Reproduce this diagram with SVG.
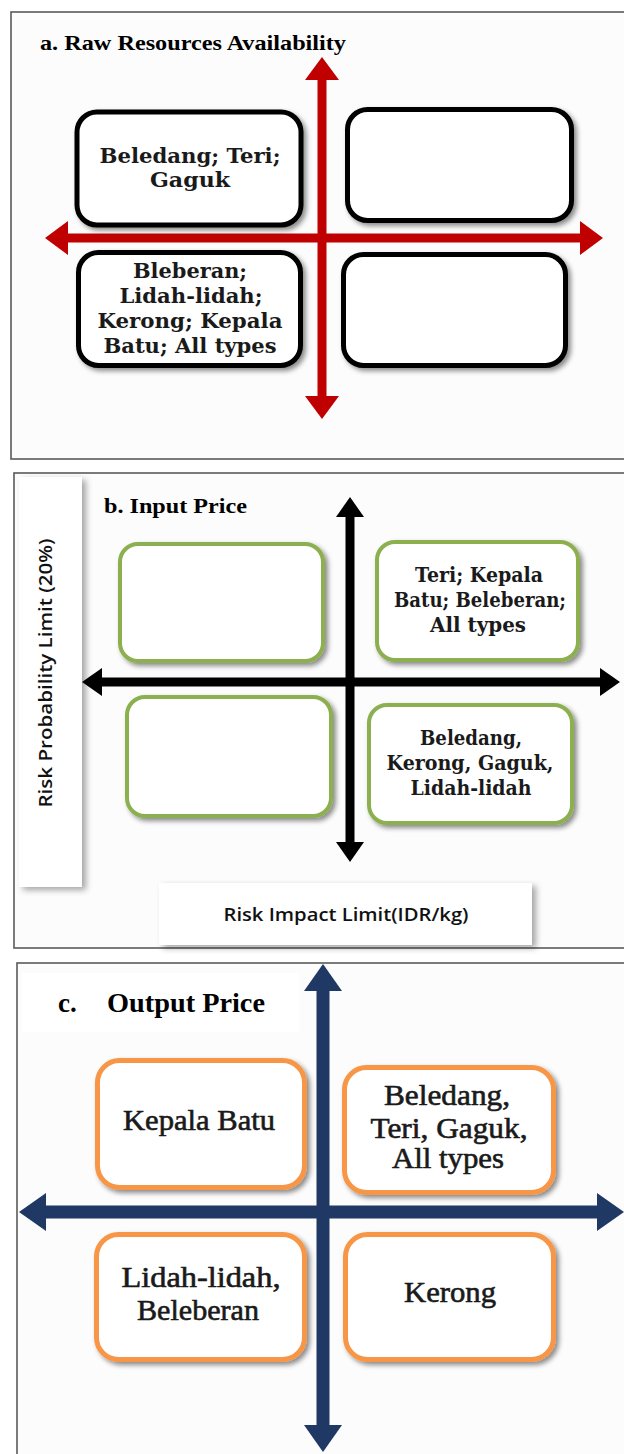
<svg xmlns="http://www.w3.org/2000/svg" width="624" height="1454" viewBox="0 0 624 1454">
<style>
.panel{fill:#fcfcfc;stroke:#5a5a5a;stroke-width:1.6}
.boxA{fill:#fff;stroke:#000;stroke-width:5}
.boxB{fill:#fff;stroke:#8cb050;stroke-width:4}
.boxC{fill:#fff;stroke:#f79646;stroke-width:5}
.tA{font-family:"DejaVu Serif","Liberation Serif",serif;font-weight:bold;font-size:21px;fill:#1a1a1a;text-anchor:middle}
.tC{font-family:"Liberation Serif","DejaVu Serif",serif;font-size:29px;fill:#1a1a1a;text-anchor:middle;stroke:#1a1a1a;stroke-width:0.6}
.title{font-family:"Liberation Serif","Times New Roman",serif;font-weight:bold;font-size:22px;fill:#000}
.axlab{font-family:"Open Sans","Liberation Sans",sans-serif;font-weight:600;font-size:18px;fill:#111;text-anchor:middle}
.labbox{fill:#fff}
</style>
<defs>
<filter id="sh" x="-20%" y="-20%" width="140%" height="140%">
<feDropShadow dx="3" dy="3" stdDeviation="2.5" flood-color="#000" flood-opacity="0.45"/>
</filter>
<filter id="shL" x="-10%" y="-10%" width="130%" height="130%">
<feDropShadow dx="4" dy="3" stdDeviation="3" flood-color="#000" flood-opacity="0.35"/>
</filter>
<marker id="hA" markerUnits="userSpaceOnUse" markerWidth="24" markerHeight="34" viewBox="0 0 24 34" refX="2" refY="17" orient="auto-start-reverse">
<path d="M0,0 L23,17 L0,34 Z" fill="#c00000"/>
</marker>
<marker id="hB" markerUnits="userSpaceOnUse" markerWidth="22" markerHeight="28" viewBox="0 0 22 28" refX="2" refY="14" orient="auto-start-reverse">
<path d="M0,0 L20,14 L0,28 Z" fill="#000"/>
</marker>
<marker id="hC" markerUnits="userSpaceOnUse" markerWidth="28" markerHeight="38" viewBox="0 0 28 38" refX="2" refY="19" orient="auto-start-reverse">
<path d="M0,0 L27,19 L0,38 Z" fill="#1f3864"/>
</marker>
</defs>
<rect width="624" height="1454" fill="#fff"/>

<!-- Panel frames -->
<g id="panel-a"><rect class="panel" x="11" y="12" width="640" height="447"/>
<text class="title" x="40" y="50" textLength="306" lengthAdjust="spacingAndGlyphs">a. Raw Resources Availability</text></g>
<g id="panel-b"><rect class="panel" x="14" y="473" width="640" height="475"/>
<text class="title" x="104" y="513" textLength="143" lengthAdjust="spacingAndGlyphs">b. Input Price</text></g>
<g id="panel-c"><rect class="panel" x="17" y="963" width="640" height="500" fill="#f9f9f9"/>
<rect x="22" y="973" width="277" height="59" fill="#fff"/>
<text class="title" x="58" y="1012" style="font-size:27px">c.</text>
<text class="title" x="107" y="1012" style="font-size:27px" textLength="158" lengthAdjust="spacingAndGlyphs">Output Price</text></g>

<!-- Axis label boxes -->
<g id="label-y">
<rect class="labbox" x="19" y="477" width="63" height="410" filter="url(#shL)"/>
<text class="axlab" transform="translate(52,673) rotate(-90)" x="0" y="0" textLength="269" lengthAdjust="spacingAndGlyphs">Risk Probability Limit (20%)</text>
</g>
<g id="label-x">
<rect class="labbox" x="159" y="883" width="373" height="62" filter="url(#shL)"/>
<text class="axlab" x="346" y="921" textLength="245" lengthAdjust="spacingAndGlyphs">Risk Impact Limit(IDR/kg)</text>
</g>

<!-- Connectors (axes) -->
<g id="connectors">
<line x1="322" y1="78" x2="322" y2="398" stroke="#c00000" stroke-width="9" marker-start="url(#hA)" marker-end="url(#hA)"/>
<line x1="66" y1="238" x2="582" y2="238" stroke="#c00000" stroke-width="9" marker-start="url(#hA)" marker-end="url(#hA)"/>
<line x1="350" y1="515" x2="350" y2="844" stroke="#000" stroke-width="9" marker-start="url(#hB)" marker-end="url(#hB)"/>
<line x1="100" y1="682" x2="602" y2="682" stroke="#000" stroke-width="9" marker-start="url(#hB)" marker-end="url(#hB)"/>
<line x1="323" y1="989" x2="323" y2="1427" stroke="#1f3864" stroke-width="13" marker-start="url(#hC)" marker-end="url(#hC)"/>
<line x1="44" y1="1212" x2="599" y2="1212" stroke="#1f3864" stroke-width="13" marker-start="url(#hC)" marker-end="url(#hC)"/>
</g>

<!-- Panel a nodes -->
<g id="a-tl"><rect class="boxA" x="77" y="112" width="224" height="113" rx="20" filter="url(#sh)"/>
<text class="tA" x="190" y="163" textLength="181" lengthAdjust="spacingAndGlyphs">Beledang; Teri;</text>
<text class="tA" x="190" y="187" textLength="80" lengthAdjust="spacingAndGlyphs">Gaguk</text></g>
<g id="a-tr"><rect class="boxA" x="347.5" y="109.5" width="224" height="111" rx="20" filter="url(#sh)"/></g>
<g id="a-bl"><rect class="boxA" x="78.5" y="252.5" width="222" height="113" rx="20" filter="url(#sh)"/>
<text class="tA" x="190" y="278" textLength="114" lengthAdjust="spacingAndGlyphs">Bleberan;</text>
<text class="tA" x="191" y="303" textLength="143" lengthAdjust="spacingAndGlyphs">Lidah-lidah;</text>
<text class="tA" x="190" y="328" textLength="185" lengthAdjust="spacingAndGlyphs">Kerong; Kepala</text>
<text class="tA" x="190" y="353" textLength="173" lengthAdjust="spacingAndGlyphs">Batu; All types</text></g>
<g id="a-br"><rect class="boxA" x="343.5" y="254.5" width="222" height="111" rx="20" filter="url(#sh)"/></g>

<!-- Panel b nodes -->
<g id="b-tl"><rect class="boxB" x="120" y="544" width="203" height="117" rx="18" filter="url(#sh)"/></g>
<g id="b-tr"><rect class="boxB" x="377" y="542" width="201" height="118" rx="18" filter="url(#sh)"/>
<text class="tA" x="479" y="582" textLength="128" lengthAdjust="spacingAndGlyphs">Teri; Kepala</text>
<text class="tA" x="480" y="607" textLength="172" lengthAdjust="spacingAndGlyphs">Batu; Beleberan;</text>
<text class="tA" x="478" y="632" textLength="96" lengthAdjust="spacingAndGlyphs">All types</text></g>
<g id="b-bl"><rect class="boxB" x="127" y="697" width="204" height="119" rx="18" filter="url(#sh)"/></g>
<g id="b-br"><rect class="boxB" x="369" y="705" width="203" height="118" rx="18" filter="url(#sh)"/>
<text class="tA" x="471" y="745" textLength="102" lengthAdjust="spacingAndGlyphs">Beledang,</text>
<text class="tA" x="470" y="770" textLength="167" lengthAdjust="spacingAndGlyphs">Kerong, Gaguk,</text>
<text class="tA" x="471" y="795" textLength="121" lengthAdjust="spacingAndGlyphs">Lidah-lidah</text></g>

<!-- Panel c nodes -->
<g id="c-tl"><rect class="boxC" x="97.5" y="1060.5" width="207" height="127" rx="22" filter="url(#sh)"/>
<text class="tC" x="199" y="1130" textLength="152" lengthAdjust="spacingAndGlyphs">Kepala Batu</text></g>
<g id="c-tr"><rect class="boxC" x="344.5" y="1067.5" width="209" height="125" rx="22" filter="url(#sh)"/>
<text class="tC" x="447" y="1105" textLength="126" lengthAdjust="spacingAndGlyphs">Beledang,</text>
<text class="tC" x="449" y="1138" textLength="157" lengthAdjust="spacingAndGlyphs">Teri, Gaguk,</text>
<text class="tC" x="448" y="1168" textLength="112" lengthAdjust="spacingAndGlyphs">All types</text></g>
<g id="c-bl"><rect class="boxC" x="96.5" y="1234.5" width="208" height="125" rx="22" filter="url(#sh)"/>
<text class="tC" x="201" y="1287" textLength="159" lengthAdjust="spacingAndGlyphs">Lidah-lidah,</text>
<text class="tC" x="198" y="1320" textLength="122" lengthAdjust="spacingAndGlyphs">Beleberan</text></g>
<g id="c-br"><rect class="boxC" x="345.5" y="1234.5" width="208" height="125" rx="22" filter="url(#sh)"/>
<text class="tC" x="450" y="1302" textLength="92" lengthAdjust="spacingAndGlyphs">Kerong</text></g>
</svg>
